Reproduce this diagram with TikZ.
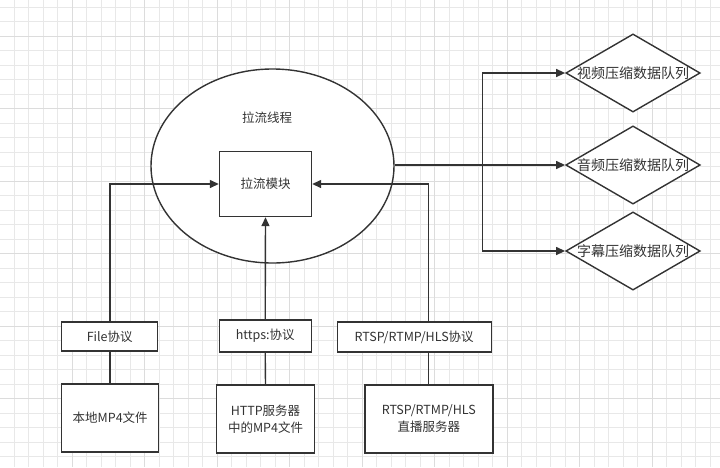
\documentclass[tikz,border=0pt]{standalone}
\usepackage{fontspec}
\setmainfont{Noto Sans CJK SC}
\usetikzlibrary{arrows.meta,shapes.geometric}
\definecolor{ink}{HTML}{333333}
\definecolor{gridminor}{HTML}{E8E8E8}
\definecolor{gridmajor}{HTML}{DCDCDC}
\begin{document}
\begin{tikzpicture}[x=1pt,y=-1pt,
  every node/.style={text=ink,font=\fontsize{12.5}{15}\selectfont},
  box/.style={draw=ink,line width=1.4pt,fill=white,inner sep=0pt,minimum width=#1},
  box/.default=90pt,
  dia/.style={draw=ink,line width=1.4pt,fill=white,diamond,inner sep=0pt,minimum width=124pt,minimum height=72pt,aspect=1.72,font=\fontsize{14}{16}\selectfont},
  conn/.style={draw=ink,line width=1.4pt},
  arr/.style={conn,-{Triangle[length=9pt,width=8pt]}}]
\useasboundingbox (0,0) rectangle (720,467);
\fill[white] (0,0) rectangle (720,467);
% grid
\foreach \i in {0,...,49}{
  \draw[gridminor,line width=1pt] ({14+14.5*\i},0) -- ({14+14.5*\i},467);}
\foreach \i in {0,...,32}{
  \draw[gridminor,line width=1pt] (0,{7+14.5*\i}) -- (720,{7+14.5*\i});}
\foreach \i in {0,...,10}{
  \draw[gridmajor,line width=1pt] ({-0.5+72.5*\i},0) -- ({-0.5+72.5*\i},467);}
\foreach \i in {0,...,7}{
  \draw[gridmajor,line width=1pt] (0,{36+72.5*\i}) -- (720,{36+72.5*\i});}
% thread ellipse
\node[draw=ink,line width=1.4pt,fill=white,ellipse,minimum width=243pt,minimum height=194pt] (thread) at (272.5,166) {};
\node (threadlbl) at (267,118) {拉流线程};
\node[box=92pt,minimum height=65pt] (pull) at (265.5,184) {拉流模块};
% diamonds
\node[dia] (v) at (633,73) {视频压缩数据队列};
\node[dia] (a) at (633,165) {音频压缩数据队列};
\node[dia] (s) at (633,251) {字幕压缩数据队列};
% protocol boxes
\node[box=96pt,minimum height=29pt] (pfile) at (109.7,336.5) {File协议};
\node[box=92pt,minimum height=32pt] (phttp) at (265.2,336) {https:协议};
\node[box=154pt,minimum height=30pt] (prtsp) at (414.2,337) {RTSP/RTMP/HLS协议};
% sources
\node[box=97pt,minimum height=68pt] (sfile) at (110.2,418) {本地MP4文件};
\node[box=98pt,minimum height=68pt,align=center,font=\fontsize{12.5}{17}\selectfont] (shttp) at (265.5,419) {HTTP服务器\\中的MP4文件};
\node[box=128pt,minimum height=68pt,align=center,font=\fontsize{12.5}{17}\selectfont] (srtsp) at (428.8,419) {RTSP/RTMP/HLS\\直播服务器};
% coordinates
\coordinate (fl) at (110,0);
\coordinate (rl) at (428.3,0);
\coordinate (trunk) at (482.5,0);
% source to protocol
\draw[conn] (sfile.north -| fl) -- (pfile.south -| fl);
\draw[conn] (shttp.north) -- (phttp.south);
\draw[conn] (srtsp.north -| rl) -- (prtsp.south -| rl);
% protocol to pull module
\draw[arr] (pfile.north -| fl) |- (pull.west);
\draw[arr] (phttp.north) -- (pull.south);
\draw[arr] (prtsp.north -| rl) |- (pull.east);
% thread to queues
\draw[arr] (thread.east |- a.west) -- (a.west);
\draw[arr] (trunk |- a.west) |- (v.west);
\draw[arr] (trunk |- a.west) |- (s.west);
\end{tikzpicture}
\end{document}
